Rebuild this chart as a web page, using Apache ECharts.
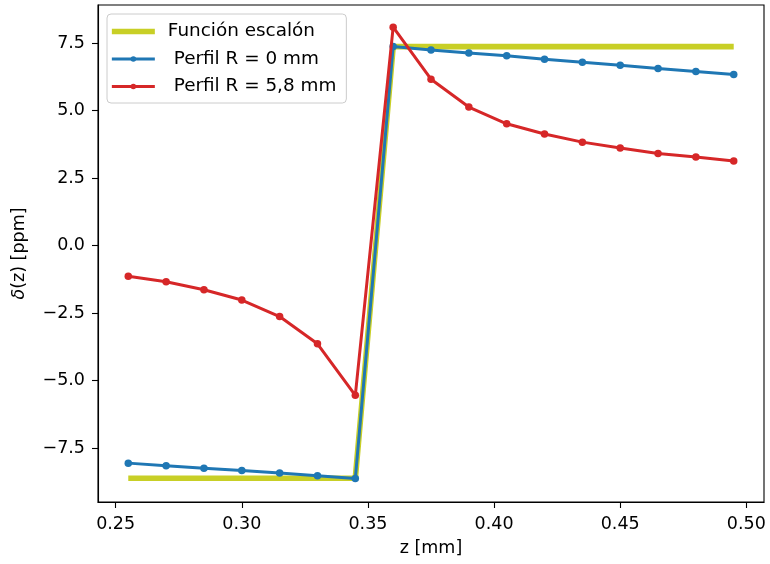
<!DOCTYPE html>
<html>
<head>
<meta charset="utf-8">
<script src="https://cdn.jsdelivr.net/npm/echarts@6/dist/echarts.min.js"></script>
<style>html,body{margin:0;padding:0;background:#fff}#c{width:770px;height:564px}</style>
</head>
<body>
<div id="c"></div>
<script>
const zValues = [0.255, 0.270, 0.285, 0.300, 0.315, 0.330, 0.345, 0.360, 0.375, 0.390, 0.405, 0.420, 0.435, 0.450, 0.465, 0.480, 0.495];
const stepValues = [-8.62, -8.62, -8.62, -8.62, -8.62, -8.62, -8.62, 7.37, 7.37, 7.37, 7.37, 7.37, 7.37, 7.37, 7.37, 7.37, 7.37];
const profileR0 = [-8.06, -8.16, -8.25, -8.33, -8.43, -8.53, -8.63, 7.37, 7.24, 7.13, 7.03, 6.90, 6.79, 6.68, 6.56, 6.45, 6.34];
const profileR58 = [-1.14, -1.34, -1.64, -2.02, -2.63, -3.64, -5.55, 8.09, 6.16, 5.13, 4.51, 4.13, 3.83, 3.61, 3.41, 3.28, 3.13];
const xTicks = [0.25, 0.30, 0.35, 0.40, 0.45, 0.50];
const yTicks = [-7.5, -5.0, -2.5, 0.0, 2.5, 5.0, 7.5];
const seriesNames = ['Función escalón', ' Perfil R = 0 mm', ' Perfil R = 5,8 mm'];

const pairs = ys => zValues.map((x, i) => [x, ys[i]]);
const FONT = 'DejaVu Sans';
const FS = 17.5;
const LFS = 18.4;
const fmtY = v => (v < 0 ? '\u2212' : '') + Math.abs(v).toFixed(1);
const YELLOW = '#c8cf26', BLUE = '#1f77b4', RED = '#d62728';

const chart = echarts.init(document.getElementById('c'), null, {renderer: 'canvas'});
chart.setOption({
  animation: false,
  backgroundColor: '#fff',
  textStyle: {fontFamily: FONT, color: '#000'},
  grid: {left: 98, right: 6, top: 5, bottom: 62, show: true, borderColor: '#000', borderWidth: 1.1, containLabel: false},
  legend: {
    left: 107, top: 14, orient: 'vertical',
    itemWidth: 43, itemHeight: 7, itemGap: 6.5,
    padding: [7, 10, 6, 2],
    backgroundColor: 'rgba(255,255,255,0.8)',
    borderColor: '#cccccc', borderWidth: 1, borderRadius: 4,
    textStyle: {fontFamily: FONT, fontSize: LFS, color: '#000', lineHeight: 21, padding: [0, 0, 0, 8]},
    data: [
      {name: seriesNames[0], itemStyle: {opacity: 0}, lineStyle: {width: 5.7, color: YELLOW}},
      {name: seriesNames[1], lineStyle: {width: 3, color: BLUE}},
      {name: seriesNames[2], lineStyle: {width: 3, color: RED}}
    ]
  },
  xAxis: {
    type: 'value', min: 0.243, max: 0.507,
    name: 'z [mm]', nameLocation: 'middle', nameGap: 37,
    nameTextStyle: {fontFamily: FONT, fontSize: FS, color: '#000'},
    axisLine: {show: true, onZero: false, lineStyle: {color: '#000', width: 1.1}},
    axisTick: {show: true, inside: false, length: 6, lineStyle: {color: '#000', width: 1.1}, customValues: xTicks},
    axisLabel: {fontFamily: FONT, fontSize: FS, color: '#000', margin: 13, customValues: xTicks, formatter: v => v.toFixed(2)},
    splitLine: {show: false}
  },
  yAxis: {
    type: 'value', min: -9.5, max: 8.91,
    name: '{i|δ}(z) [ppm]', nameLocation: 'middle', nameGap: 70, nameRotate: 90,
    nameTextStyle: {fontFamily: FONT, fontSize: FS, color: '#000', rich: {i: {fontFamily: FONT, fontSize: FS, fontStyle: 'italic', color: '#000'}}},
    axisLine: {show: true, onZero: false, lineStyle: {color: '#000', width: 1.1}},
    axisTick: {show: true, inside: false, length: 6, lineStyle: {color: '#000', width: 1.1}, customValues: yTicks},
    axisLabel: {fontFamily: FONT, fontSize: FS, color: '#000', margin: 13, customValues: yTicks, formatter: fmtY},
    splitLine: {show: false}
  },
  series: [
    {name: seriesNames[0], type: 'line', data: pairs(stepValues), showSymbol: false, symbol: 'none',
     lineStyle: {color: YELLOW, width: 5.7}, itemStyle: {color: YELLOW}, z: 2},
    {name: seriesNames[1], type: 'line', data: pairs(profileR0), symbol: 'circle', symbolSize: 7.5, showSymbol: true,
     lineStyle: {color: BLUE, width: 3}, itemStyle: {color: BLUE}, z: 3},
    {name: seriesNames[2], type: 'line', data: pairs(profileR58), symbol: 'circle', symbolSize: 7.5, showSymbol: true,
     lineStyle: {color: RED, width: 3}, itemStyle: {color: RED}, z: 4}
  ]
});
</script>
</body>
</html>
